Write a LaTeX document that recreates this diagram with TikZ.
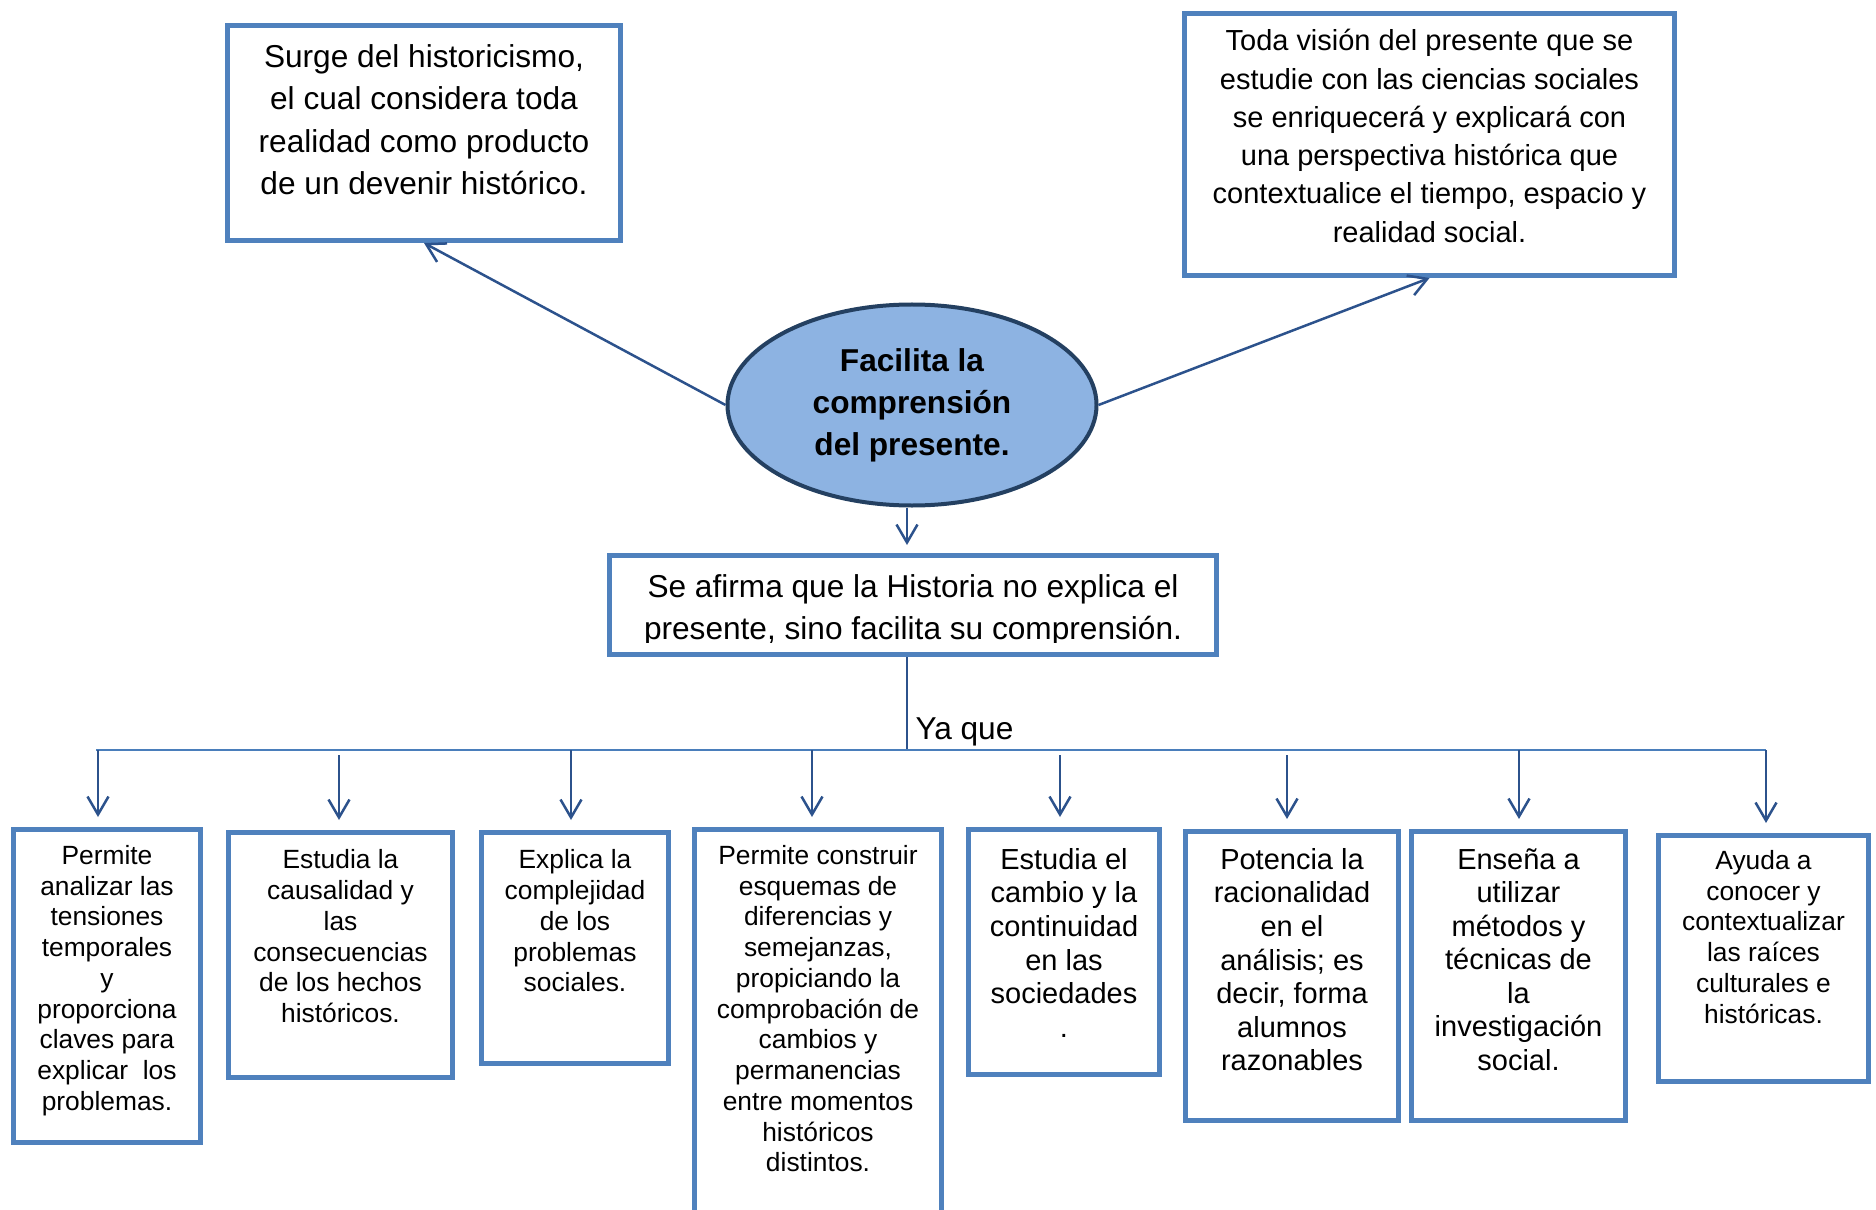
\documentclass[tikz,border=0pt]{standalone}
\usepackage{fontspec}
\setmainfont{Liberation Sans}
\usepackage{tikz}
\usetikzlibrary{positioning}
\usetikzlibrary{shapes.geometric,arrows.meta}

\definecolor{boxblue}{RGB}{79,129,189}
\definecolor{ellfill}{RGB}{141,179,226}
\definecolor{elldraw}{RGB}{36,64,97}
\definecolor{linkblue}{RGB}{44,82,140}
\definecolor{barblue}{RGB}{74,126,187}

\tikzset{
	lbox/.style={draw=boxblue,line width=1mm,inner sep=0pt},
	bigtxt/.style={align=center,inner sep=0pt,font=\fontsize{18}{24}\selectfont},
	toptxt/.style={align=center,inner sep=0pt,font=\fontsize{16.5}{21.8}\selectfont},
	smalltxt/.style={align=center,inner sep=0pt,font=\fontsize{15}{17.5}\selectfont},
	medtxt/.style={align=center,inner sep=0pt,font=\fontsize{16.5}{19.1}\selectfont},
	arr/.style={draw=linkblue,line width=0.5mm,-{Straight Barb[length=3.6mm,width=4.2mm]}},
}

\begin{document}
\begin{tikzpicture}[x=0.2mm,y=-0.2mm]
	\useasboundingbox (0,0) rectangle (1876,1210);

	% centre
	\node[ellipse,draw=elldraw,line width=0.8mm,fill=ellfill,inner sep=0pt,
		minimum width=73.8mm,minimum height=40.2mm,align=center,
		font=\bfseries\fontsize{18}{24}\selectfont] (ell) at (912,405)
		{Facilita la\\comprensión\\del presente.};

	\node[lbox,minimum width=78.6mm,minimum height=43mm] (tl) at (424,133) {};
	\node[bigtxt,below=4.3mm of tl.north] (tltxt) {Surge del historicismo,\\el cual considera toda\\realidad como producto\\de un devenir histórico.};

	\node[lbox,minimum width=98mm,minimum height=52.4mm] (tr) at (1429.5,144.5) {};
	\node[toptxt,below=3.6mm of tr.north] (trtxt) {Toda visión del presente que se\\estudie con las ciencias sociales\\se enriquecerá y explicará con\\una perspectiva histórica que\\contextualice el tiempo, espacio y\\realidad social.};

	\node[lbox,minimum width=121.4mm,minimum height=19.8mm] (mid) at (913,605) {};
	\begin{scope}
		\clip (mid.north west) rectangle ([yshift=2.9mm]mid.south east);
		\node[bigtxt,below=4.3mm of mid.north] (midtxt) {Se afirma que la Historia no explica el\\presente, sino facilita su comprensión.};
	\end{scope}

	\coordinate (ya) at (907,750);
	\coordinate (hl) at (96,750);
	\coordinate (hr) at (1766,750);

	\draw[arr] (ell.west) -- (tl.south);
	\draw[arr] (ell.east) -- (tr.south);
	\draw[arr,shorten >=1.6mm] (ell.south -| ya) -- (mid.north -| ya);

	% ramas
	\node[lbox,minimum width=37.4mm,minimum height=62.6mm] (b1) at (107,986) {};
	\node[lbox,minimum width=44.8mm,minimum height=49mm] (b2) at (340.5,955) {};
	\node[lbox,minimum width=37.4mm,minimum height=46.2mm] (b3) at (575,948) {};
	\node[lbox,minimum width=49.4mm,minimum height=85.6mm] (b4) at (818,1043.5) {};
	\node[lbox,minimum width=38.2mm,minimum height=49mm] (b5) at (1064,952) {};
	\node[lbox,minimum width=42.6mm,minimum height=57.8mm] (b6) at (1292,976) {};
	\node[lbox,minimum width=42.8mm,minimum height=57.8mm] (b7) at (1518.5,976) {};
	\node[lbox,minimum width=42mm,minimum height=49.2mm] (b8) at (1763.5,958.5) {};

	\node[smalltxt,below=3.6mm of b1.north] {Permite\\analizar las\\tensiones\\temporales\\y\\proporciona\\claves para\\explicar\ \ los\\problemas.};
	\node[smalltxt,below=3.9mm of b2.north] {Estudia la\\causalidad y\\las\\consecuencias\\de los hechos\\históricos.};
	\node[smalltxt,below=3.9mm of b3.north] {Explica la\\complejidad\\de los\\problemas\\sociales.};
	\node[smalltxt,below=3.6mm of b4.north] {Permite construir\\esquemas de\\diferencias y\\semejanzas,\\propiciando la\\comprobación de\\cambios y\\permanencias\\entre momentos\\históricos\\distintos.};
	\node[medtxt,below=4.2mm of b5.north] {Estudia el\\cambio y la\\continuidad\\en las\\sociedades\\.};
	\node[medtxt,below=3.8mm of b6.north] {Potencia la\\racionalidad\\en el\\análisis; es\\decir, forma\\alumnos\\razonables};
	\node[medtxt,below=3.8mm of b7.north] {Enseña a\\utilizar\\métodos y\\técnicas de\\la\\investigación\\social.};
	\node[smalltxt,below=3.4mm of b8.north] {Ayuda a\\conocer y\\contextualizar\\las raíces\\culturales e\\históricas.};

	\draw[draw=linkblue,line width=0.4mm] (mid.south -| ya) -- node[pos=0.8,right,inner sep=1.5mm,font=\fontsize{18}{24}\selectfont]{Ya que} (ya);
	\draw[draw=barblue,line width=0.35mm] (hl) -- (hr);

	\foreach \x/\y/\b in {98/750/b1,339/755/b2,571/750/b3,812/750/b4,1060/755/b5,1287/755/b6,1519/750/b7,1766/750/b8}{
		\coordinate (t\b) at (\x,\y);
		\draw[arr,shorten >=2mm] (t\b) -- (t\b |- \b.north);
	}
\end{tikzpicture}
\end{document}
